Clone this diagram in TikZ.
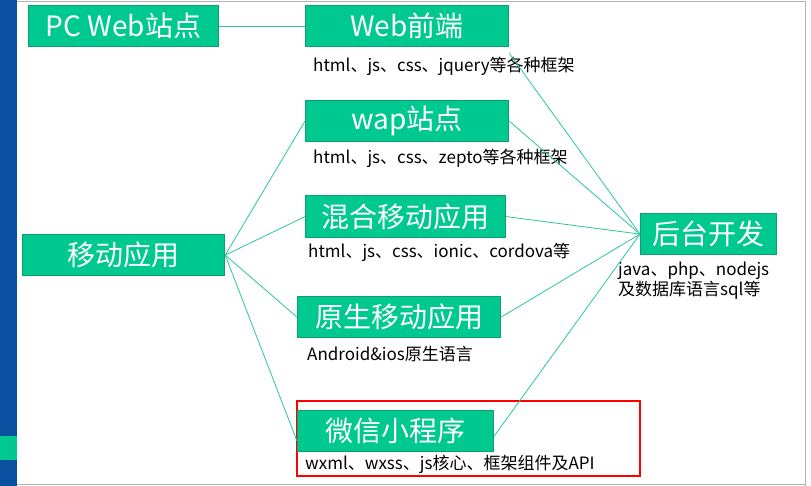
\documentclass[tikz,border=0pt]{standalone}
\usepackage{fontspec}
\setmainfont{Noto Sans CJK SC}
\definecolor{gfill}{HTML}{00C98F}
\definecolor{gdraw}{HTML}{0E9E70}
\definecolor{lcol}{HTML}{2EC4A0}
\definecolor{bbar}{HTML}{0A50A0}
\begin{document}
\begin{tikzpicture}[x=1pt,y=-1pt,
  box/.style={fill=gfill,draw=gdraw,line width=1.2pt,text=white,font=\fontsize{28}{30}\selectfont,inner sep=0pt,anchor=north west},
  lab/.style={font=\fontsize{17}{20}\selectfont,anchor=west,inner sep=0pt},
  conn/.style={draw=lcol,line width=0.8pt}]
\useasboundingbox (0,0) rectangle (811,486);
\fill[white] (0,0) rectangle (811,486);
\fill[bbar] (0,0) rectangle (17,486);
\fill[gfill] (0,436) rectangle (17,460);
\draw[gray!60,line width=1pt] (17,2) -- (805,2) -- (805,486);
\draw[gray!60,line width=1pt] (17,484) -- (805,484);
\draw[red,line width=1.5pt] (297,401) rectangle (640,476);
\node[box,minimum width=190,minimum height=41] (pc) at (28,5) {PC Web站点};
\node[box,minimum width=203,minimum height=41] (web) at (305,5) {Web前端};
\node[box,minimum width=203,minimum height=41] (wap) at (305,100) {wap站点};
\node[box,minimum width=200,minimum height=42] (mix) at (305,195) {混合移动应用};
\node[box,minimum width=202,minimum height=41] (mob) at (22,234) {移动应用};
\node[box,minimum width=203,minimum height=41] (nat) at (297,296) {原生移动应用};
\node[box,minimum width=196,minimum height=41] (wx) at (297,410) {微信小程序};
\node[box,minimum width=136,minimum height=41] (bk) at (640,213) {后台开发};
\node[lab] (l1) at (313,66) {html、js、css、jquery等各种框架};
\node[lab] (l2) at (313,158) {html、js、css、zepto等各种框架};
\node[lab] (l3) at (308,252) {html、js、css、ionic、cordova等};
\node[lab] (l4) at (307,354) {Android\&ios原生语言};
\node[lab] (l5) at (305,464) {wxml、wxss、js核心、框架组件及API};
\node[lab,anchor=north west,align=left] (l6) at (618,262) {java、php、nodejs\\及数据库语言sql等};
\draw[conn] (pc.east) -- (web.west);
\draw[conn] (mob.east) -- (wap.west);
\draw[conn] (mob.east) -- (mix.west);
\draw[conn] (mob.east) -- (nat.west);
\draw[conn] (mob.east) -- ([yshift=-10]wx.west);
\draw[conn] ([yshift=-6]web.south east) -- (bk.west);
\draw[conn] (wap.east) -- (bk.west);
\draw[conn] (mix.east) -- (bk.west);
\draw[conn] (nat.east) -- (bk.west);
\draw[conn] ([yshift=-5]wx.east) -- (bk.west);
\end{tikzpicture}
\end{document}
